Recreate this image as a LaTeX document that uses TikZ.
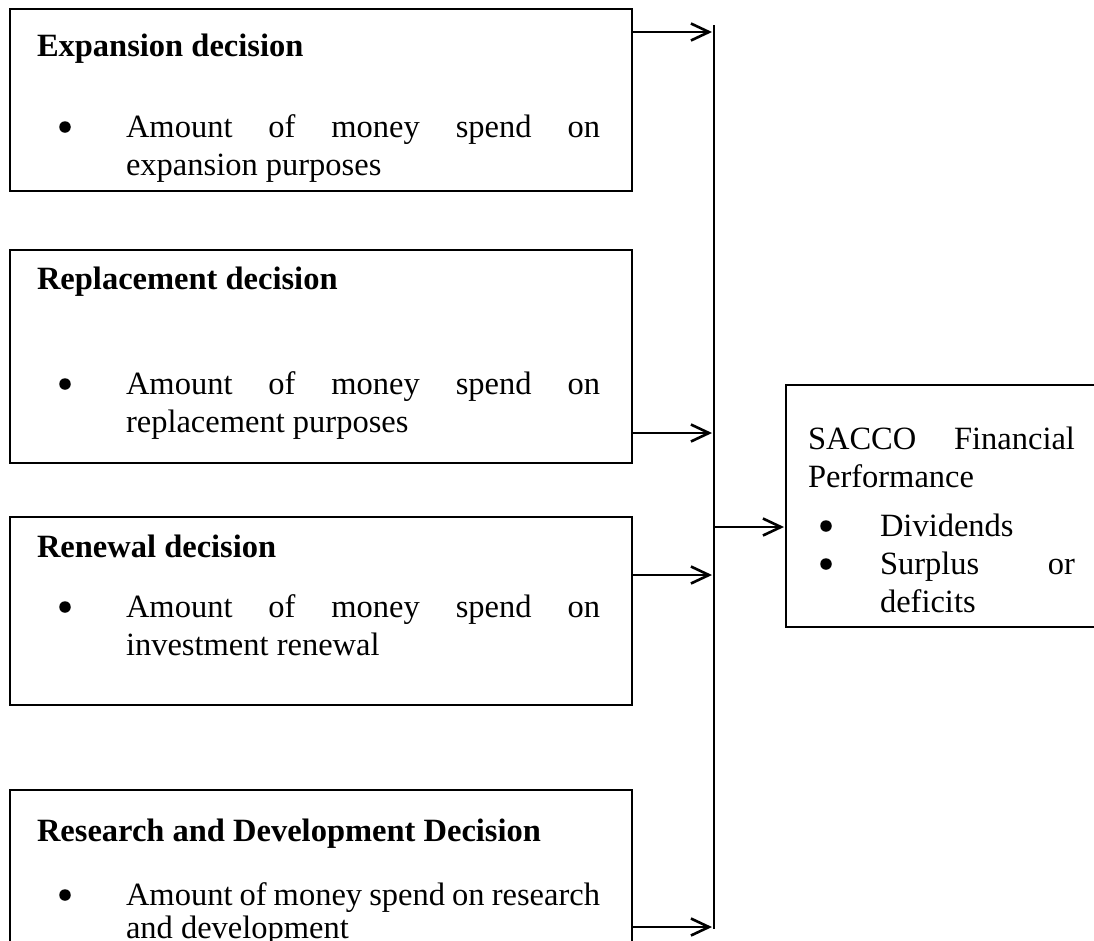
\documentclass[tikz,border=0pt]{standalone}
\usepackage{fontspec}
\setmainfont{Liberation Serif}
\usetikzlibrary{arrows.meta}
\tikzset{
  every node/.style={font=\fontsize{32.5}{38}\selectfont, inner sep=0pt, outer sep=0pt},
  decbox/.style={draw, line width=2.1pt, minimum width=622pt, anchor=north west},
  perfbox/.style={draw, line width=2.1pt, minimum width=330pt, minimum height=242pt, anchor=north west},
  head/.style={anchor=base west, font=\fontsize{32.5}{38}\selectfont\bfseries},
  txt/.style={anchor=base west},
  dot/.style={circle, fill, minimum size=11.5pt},
  link/.style={line width=2.1pt, -{Straight Barb[length=18pt, width=17pt, line width=2.6pt]}}
}
\begin{document}
\begin{tikzpicture}[x=1pt, y=-1pt]
  \clip (0,0) rectangle (1094,940);
  \fill[white] (0,0) rectangle (1094,940);

  % decision boxes
  \node[decbox, minimum height=182pt] (expbox) at (10,9) {};
  \node[decbox, minimum height=213pt] (repbox) at (10,250) {};
  \node[decbox, minimum height=188pt] (renbox) at (10,517) {};
  \node[decbox, minimum height=250pt] (resbox) at (10,790) {};

  \node[head] (exphead) at (37,56) {Expansion decision};
  \node[dot] (expdot) at (65,127) {};
  \node[txt] (expa) at (126,137) {\makebox[474pt][s]{Amount of money spend on}};
  \node[txt] (expb) at (126,175) {expansion purposes};

  \node[head] (rephead) at (37,289) {Replacement decision};
  \node[dot] (repdot) at (65,384) {};
  \node[txt] (repa) at (126,394) {\makebox[474pt][s]{Amount of money spend on}};
  \node[txt] (repb) at (126,432) {replacement purposes};

  \node[head] (renhead) at (37,557) {Renewal decision};
  \node[dot] (rendot) at (65,607) {};
  \node[txt] (rena) at (126,617) {\makebox[474pt][s]{Amount of money spend on}};
  \node[txt] (renb) at (126,655) {investment renewal};

  \node[head] (reshead) at (37,841) {Research and Development Decision};
  \node[dot] (resdot) at (65,895) {};
  \node[txt] (resa) at (126,905) {\makebox[474pt][s]{Amount of money spend on research}};
  \node[txt] (resb) at (126,938) {and development};

  % performance box
  \node[perfbox] (perfbox) at (786,385) {};
  \node[txt] (perfa) at (808,449) {\makebox[267pt][s]{SACCO Financial}};
  \node[txt] (perfb) at (808,487) {Performance};
  \node[dot] (perfdot1) at (826,526) {};
  \node[txt] (divs) at (880,536) {Dividends};
  \node[dot] (perfdot2) at (826,564) {};
  \node[txt] (surpa) at (880,574) {\makebox[195pt][s]{Surplus or}};
  \node[txt] (surpb) at (880,612) {deficits};

  % bus line and arrows
  \coordinate (bustop) at (714,25);
  \coordinate (busbot) at (714,929);
  \draw[line width=2.1pt] (bustop) -- (busbot);
  \coordinate (bus1) at (712,32);
  \coordinate (bus2) at (712,433);
  \coordinate (bus3) at (712,575);
  \coordinate (bus4) at (712,927);
  \coordinate (busout) at (714,527);
  \draw[link] (expbox.east |- bus1) -- (bus1);
  \draw[link] (repbox.east |- bus2) -- (bus2);
  \draw[link] (renbox.east |- bus3) -- (bus3);
  \draw[link] (resbox.east |- bus4) -- (bus4);
  \draw[link] (busout) -- ([xshift=-2pt]perfbox.west |- busout);
\end{tikzpicture}
\end{document}
